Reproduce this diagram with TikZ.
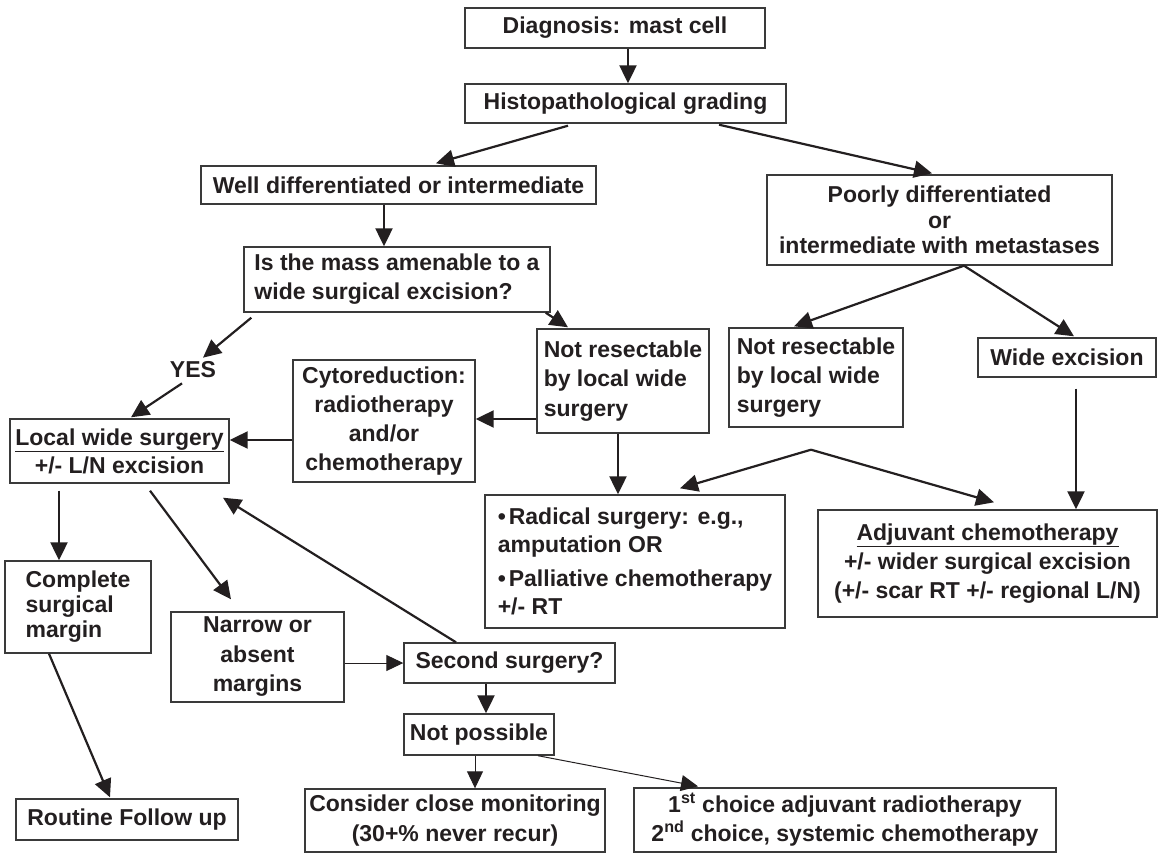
\documentclass[tikz,border=0pt]{standalone}
\usepackage{fontspec}
\setmainfont{Liberation Sans}
\usetikzlibrary{arrows.meta,calc}
\definecolor{txt}{HTML}{231F20}
\definecolor{boxc}{HTML}{3A3A3A}
\begin{document}
\begin{tikzpicture}[x=1pt,y=-1pt,
  box/.style={draw=boxc, line width=1.4pt, inner sep=0pt, text=txt, align=center,
     font=\bfseries\fontsize{23}{#1}\selectfont},
  box/.default=28,
  lbl/.style={inner sep=1pt, text=txt, font=\bfseries\fontsize{23}{28}\selectfont},
  arr/.style={draw=txt, line width=2.2pt, -{Triangle[length=18pt,width=17pt]}},
  thinarr/.style={draw=txt, line width=1pt, -{Triangle[length=17pt,width=16pt]}}]
\fill[white] (0,0) rectangle (1162,854);
\useasboundingbox (0,0) rectangle (1162,854);

\node[box, minimum width=300pt, minimum height=40pt] (diag) at (615,28) {Diagnosis: mast cell};
\node[box, minimum width=321pt, minimum height=39pt] (histo) at (625.5,103.5) {Histopathological grading};
\node[box, minimum width=395pt, minimum height=38pt] (well) at (398.5,185) {Well differentiated or intermediate};
\node[box=25.5, minimum width=345pt, minimum height=90pt] (poorly) at (939.5,220) {Poorly differentiated\\or\\intermediate with metastases};
\node[box=29, align=left, minimum width=306pt, minimum height=65pt] (is) at (397,279.5) {Is the mass amenable to a\\wide surgical excision?};
\node[box=29.5, align=left, minimum width=172pt, minimum height=104pt] (nr1) at (623,381) {Not resectable\\by local wide\\surgery};
\node[box=29, align=left, minimum width=174pt, minimum height=99pt] (nr2) at (816,377.5) {Not resectable\\by local wide\\surgery};
\node[box, minimum width=178pt, minimum height=39pt] (wide) at (1067,357.5) {Wide excision};
\node[box=29, minimum width=182pt, minimum height=122pt] (cyto) at (384,421) {Cytoreduction:\\radiotherapy\\and/or\\chemotherapy};
\node[box=28, minimum width=219pt, minimum height=64pt] (local) at (119.5,451) {\underline{Local wide surgery}\\+/- L/N excision};
\node[box=27.5, align=left, minimum width=300pt, minimum height=133pt] (radical) at (635,561.5) {\textbullet\hspace{3pt}Radical surgery: e.g.,\\amputation OR\\[7pt]\textbullet\hspace{3pt}Palliative chemotherapy\\+/- RT};
\node[box=29, minimum width=339pt, minimum height=107pt] (adj) at (987.5,563.5) {\underline{Adjuvant chemotherapy}\\+/- wider surgical excision\\(+/- scar RT +/- regional L/N)};
\node[box=25, align=left, minimum width=146pt, minimum height=92pt] (complete) at (78,607) {Complete\\surgical\\margin};
\node[box=29.5, minimum width=173pt, minimum height=90pt] (narrow) at (257.5,657) {Narrow or\\absent\\margins};
\node[box, minimum width=211pt, minimum height=40pt] (second) at (509.5,663) {Second surgery?};
\node[box, minimum width=150pt, minimum height=41pt] (notposs) at (479,734.5) {Not possible};
\node[box=30, minimum width=300pt, minimum height=63pt] (consider) at (455,820.5) {Consider close monitoring\\(30+\% never recur)};
\node[box=29, minimum width=422pt, minimum height=64pt] (first) at (845,820) {1\textsuperscript{st} choice adjuvant radiotherapy\\2\textsuperscript{nd} choice, systemic chemotherapy};
\node[box, minimum width=222pt, minimum height=41pt] (routine) at (127,819.5) {Routine Follow up};
\node[lbl] (yes) at (193,370) {YES};

\coordinate (peak) at ($(nr2.south)+(-5,22)$);

\draw[arr] ($(diag.south)+(13,0)$) -- ($(histo.north)+(2.5,0)$);
\draw[arr] ($(histo.south)+(-57.5,2)$) -- ($(well.north)+(37.5,-2)$);
\draw[arr] ($(histo.south)+(93.5,1)$) -- ($(poorly.north)+(-7.5,-1)$);
\draw[arr] ($(well.south)+(-14.5,0)$) -- ($(is.north)+(-13,0)$);
\draw[arr] ($(is.south west)+(8,5)$) -- ($(yes.north)+(10,-3)$);
\draw[arr] ($(yes.south)+(-11,4)$) -- ($(local.north)+(11.5,-1)$);
\draw[arr] ($(is.south east)+(-5,0)$) -- ($(nr1.north)+(-55,-1)$);
\draw[arr] ($(nr1.west)+(0,38)$) -- ($(cyto.east)+(0,-2)$);
\draw[arr] ($(cyto.west)+(0,19)$) -- ($(local.east)+(0,-11)$);
\draw[arr] ($(nr1.south)+(-5,0)$) -- ($(radical.north)+(-17,0)$);
\draw[arr] ($(poorly.south)+(24.5,0)$) -- ($(nr2.north)+(-22,-1)$);
\draw[arr] ($(poorly.south)+(24.5,0)$) -- ($(wide.north)+(7,-1)$);
\draw[arr] (peak) -- ($(radical.north)+(45,-6)$);
\draw[arr] (peak) -- ($(adj.north)+(6.5,-7)$);
\draw[arr] ($(wide.south)+(9,11)$) -- ($(adj.north)+(88.5,0)$);
\draw[arr] ($(local.south)+(-60.5,7)$) -- ($(complete.north)+(-19,0)$);
\draw[arr] ($(local.south)+(30.5,7)$) -- ($(narrow.north)+(-26.5,-12)$);
\draw[arr] ($(second.north)+(-53.5,0)$) -- ($(local.south)+(103.5,14)$);
\draw[thinarr] ($(narrow.east)+(0,6)$) -- (second.west);
\draw[arr] ($(second.south)+(-23.5,0)$) -- ($(notposs.north)+(7,0)$);
\draw[thinarr] ($(notposs.south)+(-4,0)$) -- ($(consider.north)+(20,0)$);
\draw[thinarr] ($(notposs.south)+(59,0)$) -- ($(first.north)+(-147,-1)$);
\draw[arr] ($(complete.south)+(-29,0)$) -- ($(routine.north)+(-17,-1)$);
\end{tikzpicture}
\end{document}
